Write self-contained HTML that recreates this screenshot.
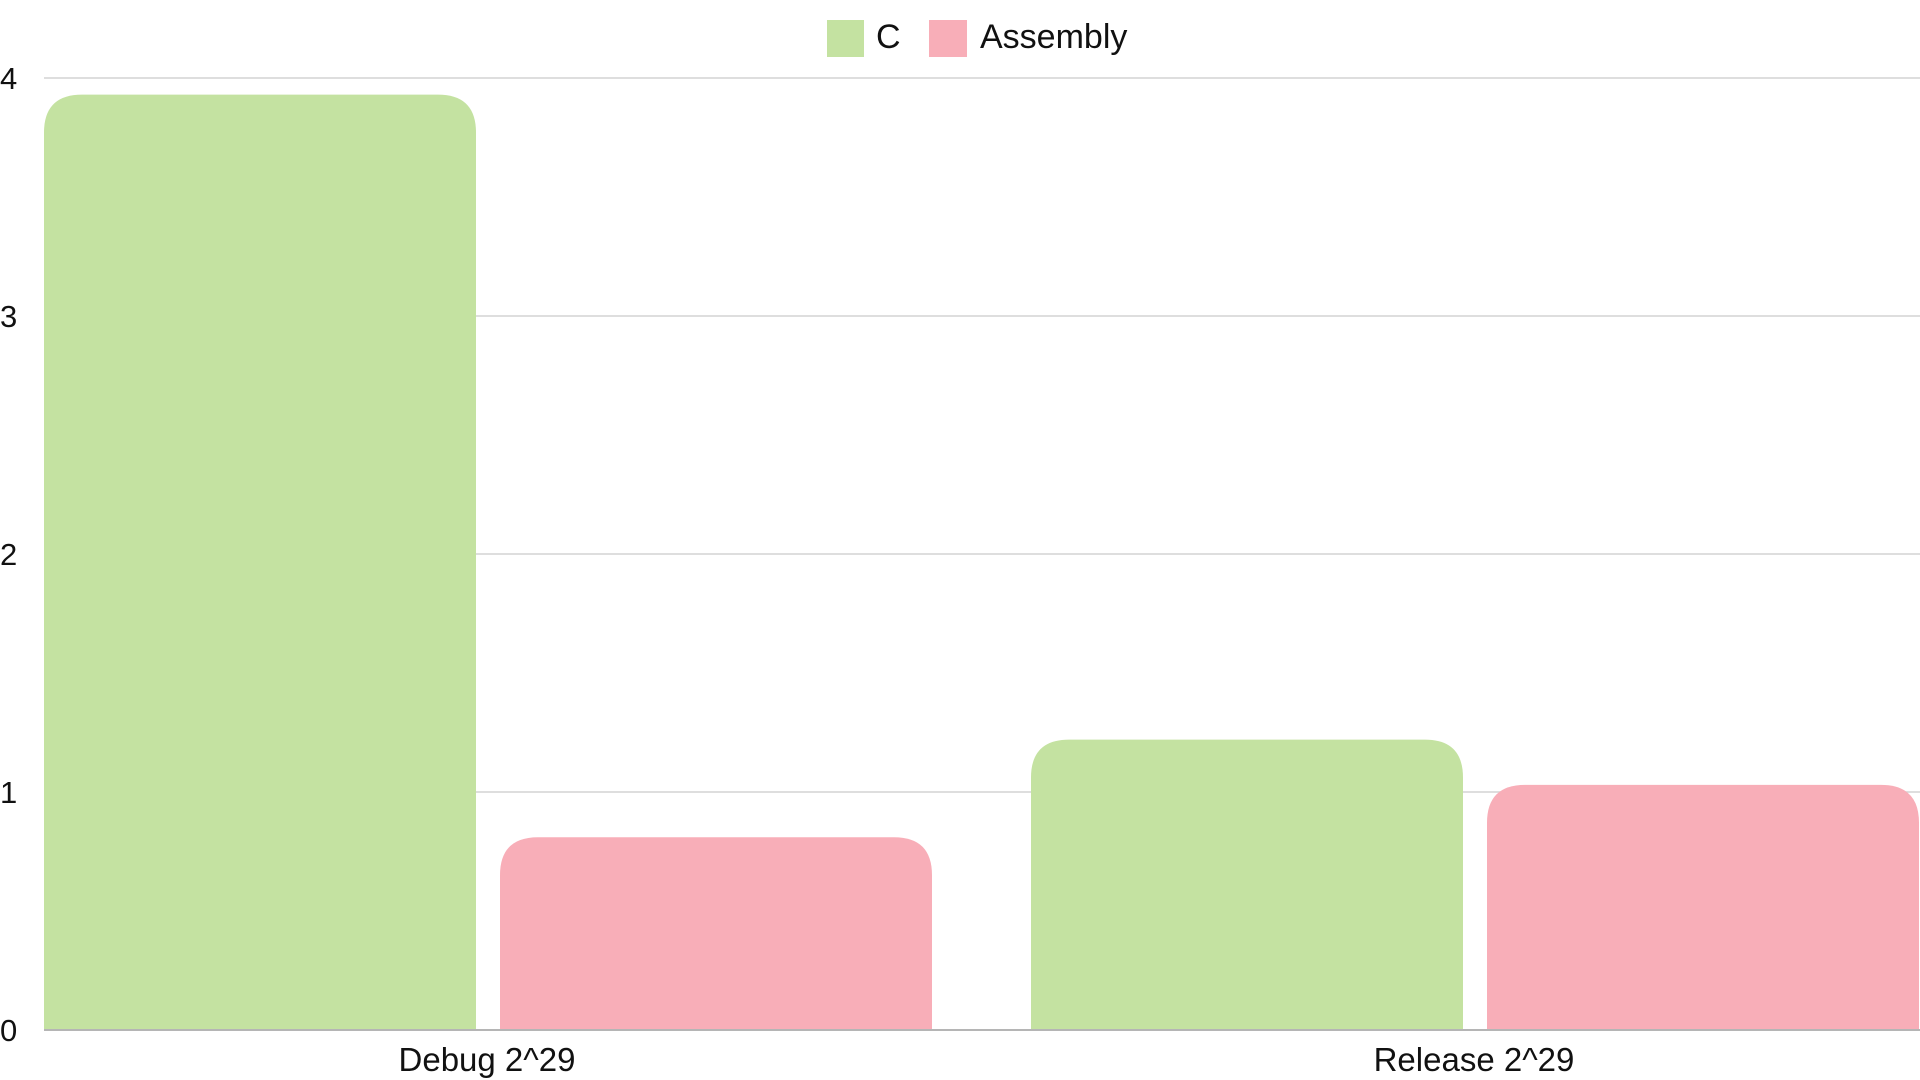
<!DOCTYPE html>
<html><head><meta charset="utf-8"><style>
body{margin:0;background:#fff;overflow:hidden}
svg{display:block;font-family:"Liberation Sans",sans-serif}
</style></head><body>
<svg id="chart" width="1920" height="1080" viewBox="0 0 1920 1080">
<g id="grid"></g>
<g id="bars"></g>
<g id="axes"></g>
<g>
<rect x="827" y="20" width="37" height="37" fill="#c4e2a1"/>
<text x="876" y="48" font-size="34" fill="#111">C</text>
<rect x="929" y="20" width="38" height="37" fill="#f8aeb8"/>
<text x="980" y="48" font-size="34" fill="#111">Assembly</text>
</g>
</svg>
<script>
const categories = ["Debug 2^29", "Release 2^29"];
const seriesNames = ["C", "Assembly"];
const cValues = [3.93, 1.22];
const asmValues = [0.81, 1.03];
const yTicks = [0, 1, 2, 3, 4];
const colors = ["#c4e2a1", "#f8aeb8"];

const NS = "http://www.w3.org/2000/svg";
const left = 44, right = 1920, y0 = 1030, yTop = 78, yMax = 4;
const y = v => y0 - (v / yMax) * (y0 - yTop);
const barW = 432, gap = 24, groupStep = 987;
const gx = i => left + i * groupStep;
function mk(tag, attrs, parent) {
  const e = document.createElementNS(NS, tag);
  for (const k in attrs) e.setAttribute(k, attrs[k]);
  parent.appendChild(e);
  return e;
}
const grid = document.getElementById('grid'), bars = document.getElementById('bars'), axes = document.getElementById('axes');
yTicks.forEach(t => {
  if (t > 0) {
    const l = mk('line', {x1: left, x2: right, y1: y(t), y2: y(t), stroke: '#d4d4d4', 'stroke-width': 1.5}, grid);
    
    
  }
  const tx = mk('text', {x: 0, y: y(t) + 11, 'font-size': 31, fill: '#111'}, axes);
  tx.textContent = t;
  
  
});
function barPath(x, w, top, bottom, r) {
  r = Math.min(r, (bottom - top));
  return `M${x},${bottom} L${x},${top + r} Q${x},${top} ${x + r},${top} L${x + w - r},${top} Q${x + w},${top} ${x + w},${top + r} L${x + w},${bottom} Z`;
}
const series = [cValues, asmValues];
categories.forEach((c, i) => {
  series.forEach((vals, s) => {
    const x = gx(i) + s * (barW + gap);
    const p = mk('path', {d: barPath(x, barW, y(vals[i]), y0, 38), fill: colors[s]}, bars);
    
    
  });
  const lt = mk('text', {x: gx(i) + barW + gap / 2 - 1, y: y0 + 41, 'font-size': 33, fill: '#111', 'text-anchor': 'middle'}, axes);
  lt.textContent = c;
  
  
});
const base = mk('line', {x1: left, x2: right, y1: y0, y2: y0, stroke: '#b5b5b5', 'stroke-width': 2}, axes);


</script>
</body></html>
